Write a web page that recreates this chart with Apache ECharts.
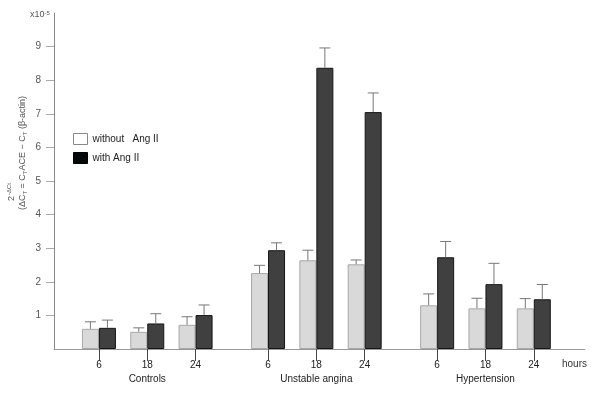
<!DOCTYPE html>
<html>
<head>
<meta charset="utf-8">
<script src="https://cdn.jsdelivr.net/npm/echarts@6/dist/echarts.min.js"></script>
<style>html,body{margin:0;padding:0;background:#fff;}#c{width:600px;height:394px;}</style>
</head>
<body>
<div id="c"></div>
<script>
// ---- data ----
const groups = ['Controls', 'Unstable angina', 'Hypertension'];
const hours = ['6', '18', '24'];
const withoutAng = [0.60, 0.51, 0.72, 2.26, 2.64, 2.52, 1.30, 1.21, 1.21];
const withoutErr = [0.21, 0.12, 0.24, 0.23, 0.30, 0.13, 0.34, 0.30, 0.29];
const withAng = [0.63, 0.76, 1.01, 2.94, 8.37, 7.05, 2.73, 1.93, 1.48];
const withErr = [0.23, 0.29, 0.30, 0.22, 0.59, 0.57, 0.47, 0.62, 0.44];
const yTicks = [1, 2, 3, 4, 5, 6, 7, 8, 9];

// ---- layout helpers (slot positions on a hidden numeric x scale) ----
const GROUP_STEP = 3.5;
const positions = [];
const hourOf = [];
groups.forEach((g, gi) => hours.forEach((h, hi) => { positions.push(gi * GROUP_STEP + hi); hourOf.push(h); }));
const groupCenters = groups.map((g, gi) => gi * GROUP_STEP + 1);
const XMIN = -0.93, XMAX = 10.06;
const BAR_W = 17;
const FONT = 'Liberation Sans, Arial, sans-serif';

function findIdx(arr, v) { for (let i = 0; i < arr.length; i++) if (Math.abs(arr[i] - v) < 1e-6) return i; return -1; }

function errRender(sign) {
  return function (params, api) {
    const x = api.value(0), v = api.value(1), e = api.value(2);
    const b = api.coord([x, v]);
    const t = api.coord([x, v + e]);
    const cx = b[0] + sign * BAR_W / 2;
    const st = { stroke: '#777', lineWidth: 1 };
    return {
      type: 'group',
      children: [
        { type: 'line', shape: { x1: cx, y1: b[1], x2: cx, y2: t[1] }, style: st },
        { type: 'line', shape: { x1: cx - 5.5, y1: t[1], x2: cx + 5.5, y2: t[1] }, style: st }
      ]
    };
  };
}

const chart = echarts.init(document.getElementById('c'), null, { renderer: 'canvas' });
const nameA = 'without   Ang II', nameB = 'with Ang II';
chart.setOption({
  animation: false,
  backgroundColor: '#fff',
  textStyle: { fontFamily: FONT },
  grid: { left: 54, right: 15, top: 13, bottom: 45, containLabel: false },
  legend: {
    orient: 'vertical', left: 73, top: 133, padding: 0, itemWidth: 14, itemHeight: 11, itemGap: 7,
    icon: 'rect',
    textStyle: { fontSize: 10, color: '#222', fontFamily: FONT },
    data: [
      { name: nameA, itemStyle: { color: '#fff', borderColor: '#888', borderWidth: 1 } },
      { name: nameB, itemStyle: { color: '#050808', borderColor: '#000', borderWidth: 1 } }
    ]
  },
  xAxis: [
    {
      type: 'value', min: XMIN, max: XMAX, position: 'bottom',
      splitLine: { show: false },
      axisLine: { show: true, onZero: false, lineStyle: { color: '#999', width: 1 } },
      axisTick: { show: true, customValues: positions, length: 12, lineStyle: { color: '#444' } },
      axisLabel: {
        customValues: positions, margin: 11, fontSize: 10, color: '#222', fontFamily: FONT,
        formatter: v => { const i = findIdx(positions, v); return i >= 0 ? hourOf[i] : ''; }
      }
    },
    {
      type: 'value', min: XMIN, max: XMAX, position: 'bottom',
      splitLine: { show: false },
      axisLine: { show: false, onZero: false }, axisTick: { show: false },
      axisLabel: {
        customValues: groupCenters, margin: 25, fontSize: 10, color: '#222', fontFamily: FONT,
        formatter: v => { const i = findIdx(groupCenters, v); return i >= 0 ? groups[i] : ''; }
      }
    }
  ],
  yAxis: {
    type: 'value', min: 0, max: 10, interval: 1,
    splitLine: { show: false },
    axisLine: { show: true, onZero: false, lineStyle: { color: '#888' } },
    axisTick: { show: true, customValues: yTicks, length: 8, lineStyle: { color: '#aaa' } },
    axisLabel: {
      customValues: yTicks, margin: 13, fontSize: 10, color: '#555', fontFamily: FONT,
      formatter: v => String(v)
    }
  },
  series: [
    {
      name: nameA, type: 'bar', xAxisIndex: 0, barWidth: BAR_W, barGap: '0%',
      itemStyle: { color: '#d9d9d9', borderColor: '#a8a8a8', borderWidth: 1 },
      data: positions.map((p, i) => [p, withoutAng[i]])
    },
    {
      name: nameB, type: 'bar', xAxisIndex: 0, barWidth: BAR_W, barGap: '0%',
      itemStyle: { color: '#404040', borderColor: '#151515', borderWidth: 1 },
      data: positions.map((p, i) => [p, withAng[i]])
    },
    {
      name: 'errA', type: 'custom', xAxisIndex: 0, renderItem: errRender(-1), z: 5,
      data: positions.map((p, i) => [p, withoutAng[i], withoutErr[i]])
    },
    {
      name: 'errB', type: 'custom', xAxisIndex: 0, renderItem: errRender(1), z: 5,
      data: positions.map((p, i) => [p, withAng[i], withErr[i]])
    }
  ],
  graphic: [
    {
      type: 'text', x: 30, y: 10,
      style: {
        text: 'x10{sup|-5}', fontSize: 9, fill: '#555', fontFamily: FONT,
        rich: { sup: { fontSize: 6, verticalAlign: 'top', fill: '#555', padding: [0, 0, 4, 0] } }
      }
    },
    {
      type: 'text', x: 12, y: 192, rotation: Math.PI / 2,
      style: {
        text: '2{sup|-ΔCt}', fontSize: 9, fill: '#555', fontFamily: FONT, align: 'center', verticalAlign: 'middle',
        rich: { sup: { fontSize: 6, fill: '#555', padding: [0, 0, 6, 1] } }
      }
    },
    {
      type: 'text', x: 23, y: 153, rotation: Math.PI / 2,
      style: {
        text: '(ΔC{sub|T} = C{sub|T}ACE − C{sub|T} (β-actin)', fontSize: 9, fill: '#555', fontFamily: FONT,
        align: 'center', verticalAlign: 'middle',
        rich: { sub: { fontSize: 6, fill: '#555', padding: [5, 0, 0, 0] } }
      }
    },
    {
      type: 'text', x: 562, y: 359,
      style: { text: 'hours', fontSize: 10, fill: '#333', fontFamily: FONT }
    }
  ]
});
</script>
</body>
</html>
